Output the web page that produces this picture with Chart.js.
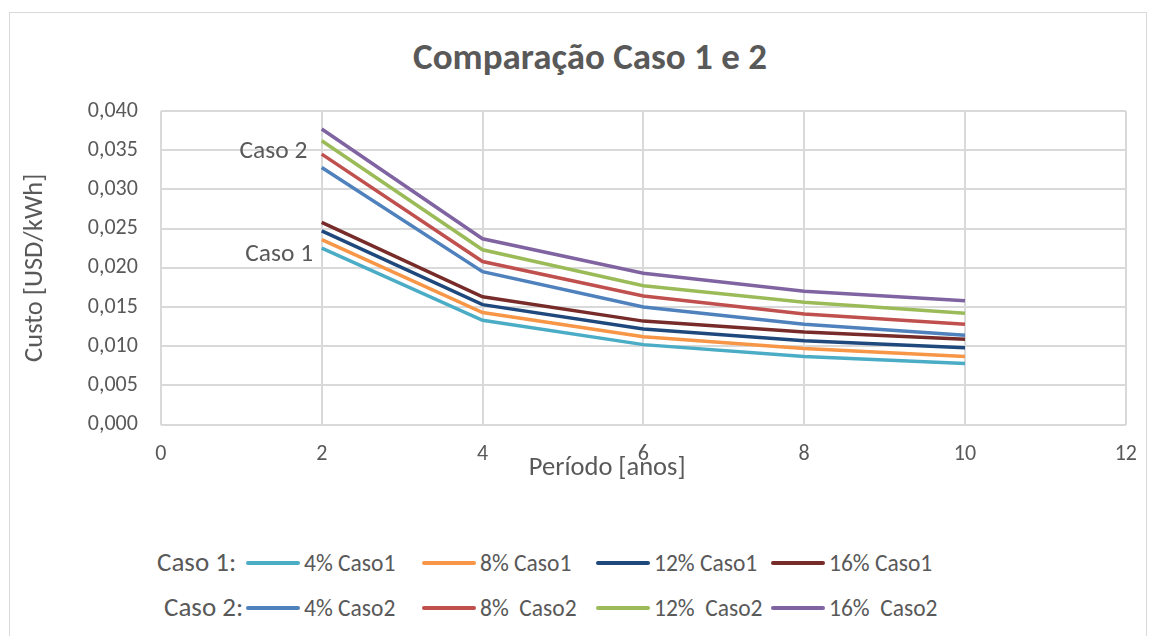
<!DOCTYPE html>
<html lang="pt">
  <head>
    <meta charset="UTF-8" />
    <title>Comparação Caso 1 e 2</title>
    <script src="https://cdn.jsdelivr.net/npm/chart.js@4"></script>
    <style>
      body { margin: 0; background: #fff; font-family: Calibri, Carlito, "Open Sans", sans-serif; color: #595959; }
      .frame { position: absolute; left: 9px; top: 12px; width: 1136px; height: 660px; border: 1px solid #d9d9d9; }
      .wrap { position: absolute; left: 0; top: 0; width: 1154px; height: 507px; }
      h1 { position: absolute; left: 0; top: 33px; width: 1180px; margin: 0; text-align: center;
           font-size: 37px; line-height: 48px; font-weight: bold; }
      .row { position: absolute; white-space: pre; display: flex; align-items: center; height: 30px; }
      .pre { font-size: 27px; margin-top: -2px; }
      .item { font-size: 23.5px; }
      .sw { display: inline-block; width: 54px; height: 4px; margin-right: 4px; border-radius: 2px; }
    </style>
  </head>
  <body>
    <div class="frame"></div>
    <h1>Comparação Caso 1 e 2</h1>
    <div class="wrap"><canvas id="chart" width="1154" height="507"></canvas></div>
    <div id="legend"></div>

    <script>
      const anos = [2, 4, 6, 8, 10];

      // Caso 1
      const caso1_4 = [0.0225, 0.0133, 0.0102, 0.0087, 0.0078];
      const caso1_8 = [0.0236, 0.0143, 0.0112, 0.0097, 0.0087];
      const caso1_12 = [0.0247, 0.0153, 0.0122, 0.0107, 0.0098];
      const caso1_16 = [0.0258, 0.0163, 0.0132, 0.0118, 0.0109];

      // Caso 2
      const caso2_4 = [0.0328, 0.0195, 0.0150, 0.0128, 0.0114];
      const caso2_8 = [0.0345, 0.0208, 0.0164, 0.0141, 0.0128];
      const caso2_12 = [0.0362, 0.0223, 0.0177, 0.0156, 0.0142];
      const caso2_16 = [0.0377, 0.0237, 0.0193, 0.0170, 0.0158];

      const labels1 = ["4% Caso1", "8% Caso1", "12% Caso1", "16% Caso1"];
      const labels2 = ["4% Caso2", "8%  Caso2", "12%  Caso2", "16%  Caso2"];
      const colors1 = ["#4bacc6", "#f79646", "#1f497d", "#772c2a"];
      const colors2 = ["#4f81bd", "#c0504d", "#9bbb59", "#8064a2"];

      const grey = "#595959";
      const font = 'Calibri, Carlito, "Open Sans", sans-serif';

      const toPoints = (ys) => ys.map((y, i) => ({ x: anos[i], y: y }));

      const series1 = [caso1_4, caso1_8, caso1_12, caso1_16];
      const series2 = [caso2_4, caso2_8, caso2_12, caso2_16];

      const datasets = [];
      series1.forEach((s, i) => {
        datasets.push({ label: labels1[i], data: toPoints(s), borderColor: colors1[i] });
      });
      series2.forEach((s, i) => {
        datasets.push({ label: labels2[i], data: toPoints(s), borderColor: colors2[i] });
      });
      datasets.forEach((d) => {
        d.borderWidth = 3.5;
        d.pointRadius = 0;
        d.fill = false;
        d.tension = 0;
      });

      // "Caso 1" / "Caso 2" notes next to the first points, plus the x title
      // (Excel puts it tight under the tick labels, overlapping them a bit)
      const notes = {
        id: "notes",
        afterDatasetsDraw(chart) {
          const { ctx, scales, chartArea } = chart;
          ctx.save();
          ctx.font = "25.5px " + font;
          ctx.fillStyle = grey;
          ctx.textAlign = "center";
          ctx.textBaseline = "middle";
          ctx.fillText("Caso 2", scales.x.getPixelForValue(1.4), scales.y.getPixelForValue(0.0348));
          ctx.fillText("Caso 1", scales.x.getPixelForValue(1.47), scales.y.getPixelForValue(0.0217));
          ctx.font = "26.5px " + font;
          ctx.fillText("Período [anos]", scales.x.getPixelForValue(5.55), chartArea.bottom + 44);
          ctx.restore();
        },
      };

      new Chart(document.getElementById("chart"), {
        type: "line",
        data: { datasets: datasets },
        plugins: [notes],
        options: {
          responsive: false,
          animation: false,
          layout: { padding: { left: 19, right: 28, top: 111, bottom: 22 } },
          plugins: {
            legend: { display: false },
            tooltip: { enabled: false },
          },
          scales: {
            x: {
              type: "linear",
              min: 0,
              max: 12,
              ticks: {
                stepSize: 2,
                color: grey,
                font: { family: font, size: 22 },
                padding: 17,
              },
              grid: { color: "#d9d9d9", lineWidth: 2, drawTicks: false },
              border: { display: false },
            },
            y: {
              min: 0,
              max: 0.04,
              ticks: {
                stepSize: 0.005,
                color: grey,
                font: { family: font, size: 22 },
                padding: 23,
                callback: (v) => v.toFixed(3).replace(".", ","),
              },
              grid: { color: "#d9d9d9", lineWidth: 2, drawTicks: false },
              border: { display: false },
              title: {
                display: true,
                text: "Custo [USD/kWh]",
                color: grey,
                font: { family: font, size: 26.5 },
                padding: { top: 0, bottom: 14 },
              },
            },
          },
        },
      });

      // two-row legend with "Caso 1:" / "Caso 2:" prefixes
      const legend = document.getElementById("legend");
      const rows = [
        { pre: "Caso 1:", labels: labels1, colors: colors1, mid: 563, left: 157 },
        { pre: "Caso 2:", labels: labels2, colors: colors2, mid: 608, left: 164 },
      ];
      const itemLeft = [246, 422, 596, 771];
      rows.forEach((r) => {
        const pre = document.createElement("div");
        pre.className = "row pre";
        pre.style.top = r.mid - 15 + "px";
        pre.style.left = r.left + "px";
        pre.textContent = r.pre;
        legend.appendChild(pre);
        r.labels.forEach((lab, i) => {
          const it = document.createElement("div");
          it.className = "row item";
          it.style.top = r.mid - 15 + "px";
          it.style.left = itemLeft[i] + "px";
          const sw = document.createElement("span");
          sw.className = "sw";
          sw.style.background = r.colors[i];
          const tx = document.createElement("span");
          tx.textContent = lab;
          it.appendChild(sw);
          it.appendChild(tx);
          legend.appendChild(it);
        });
      });
    </script>
  </body>
</html>
